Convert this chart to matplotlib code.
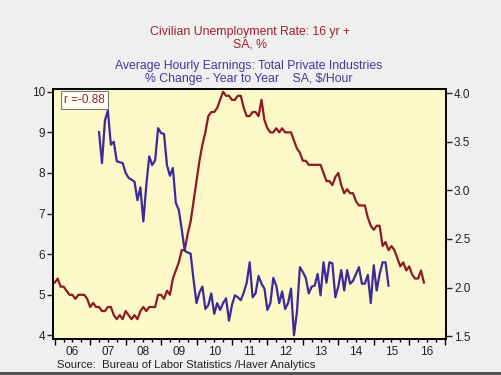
import numpy as np
import pandas as pd
import matplotlib
matplotlib.use("Agg")
import matplotlib.pyplot as plt
from matplotlib.ticker import FixedLocator, FixedFormatter
from matplotlib.patches import Rectangle

plt.rcParams['font.family'] = ['Liberation Sans', 'DejaVu Sans']

# Civilian unemployment rate, 16 yr + (SA, %), plotted 12 months ahead
unemp_start = "2006-01-01"
unemp = [
    5.3, 5.4, 5.2, 5.2, 5.1, 5.0, 5.0, 4.9, 5.0, 5.0, 5.0, 4.9,
    4.7, 4.8, 4.7, 4.7, 4.6, 4.6, 4.7, 4.7, 4.5, 4.4, 4.5, 4.4,
    4.6, 4.5, 4.4, 4.5, 4.4, 4.6, 4.7, 4.6, 4.7, 4.7, 4.7, 5.0,
    5.0, 4.9, 5.1, 5.0, 5.4, 5.6, 5.8, 6.1, 6.1, 6.5, 6.8, 7.3,
    7.8, 8.3, 8.7, 9.0, 9.4, 9.5, 9.5, 9.6, 9.8, 10.0, 9.9, 9.9,
    9.8, 9.8, 9.9, 9.9, 9.6, 9.4, 9.4, 9.5, 9.5, 9.4, 9.8, 9.3,
    9.1, 9.0, 9.0, 9.1, 9.0, 9.1, 9.0, 9.0, 9.0, 8.8, 8.6, 8.5,
    8.3, 8.3, 8.2, 8.2, 8.2, 8.2, 8.2, 8.0, 7.8, 7.8, 7.7, 7.9,
    8.0, 7.7, 7.5, 7.6, 7.5, 7.5, 7.3, 7.2, 7.2, 7.2, 6.9, 6.7,
    6.6, 6.7, 6.7, 6.2, 6.3, 6.1, 6.2, 6.1, 5.9, 5.7, 5.8, 5.6,
    5.7, 5.5, 5.4, 5.4, 5.6, 5.3,
]

# Average hourly earnings, total private, % change year to year
ahe_start = "2007-04-01"
ahe = [
    3.60, 3.28, 3.72, 3.82, 3.47, 3.50, 3.30, 3.29, 3.28,
    3.18, 3.13, 3.11, 3.09, 2.90, 3.03, 2.68, 3.05, 3.35, 3.26, 3.31, 3.64,
    3.59, 3.58, 3.26, 3.15, 3.23, 2.87, 2.80, 2.60, 2.38, 2.36, 2.35, 2.08,
    1.84, 1.95, 2.01, 1.78, 1.82, 1.94, 1.73, 1.84, 1.77, 1.84, 1.89, 1.66,
    1.82, 1.92, 1.90, 1.87, 1.95, 2.05, 2.26, 1.90, 1.94, 2.12, 2.04, 1.99,
    1.77, 1.84, 2.10, 2.02, 1.84, 1.96, 1.78, 1.84, 1.99, 1.51, 1.75, 2.21,
    2.16, 2.10, 1.94, 2.01, 2.02, 2.14, 1.92, 2.26, 2.05, 2.26, 2.25, 1.90,
    2.01, 2.18, 1.97, 2.18, 2.04, 2.07, 2.14, 2.21, 2.04, 2.04, 2.13, 1.84,
    2.23, 1.97, 2.14, 2.26, 2.26, 2.02,
]

years = list(range(2006, 2017))
year_labels = [f"{y % 100:02d}" for y in years]
left_ticks = [4, 5, 6, 7, 8, 9, 10]
right_ticks = [1.5, 2.0, 2.5, 3.0, 3.5, 4.0]


def decimal_months(start, n):
    d = pd.date_range(start, periods=n, freq="MS")
    return d.year + (d.month - 1) / 12.0


x_unemp = decimal_months(unemp_start, len(unemp))
x_ahe = decimal_months(ahe_start, len(ahe))

RED = "#8e1b22"
BLUE = "#3a2a9c"

fig = plt.figure(figsize=(5.01, 3.75), dpi=100)
fig.patch.set_facecolor("#efefef")
ax = fig.add_axes([0.1064, 0.0947, 0.7832, 0.6672])
ax.set_facecolor("#fcf8c8")
ax2 = ax.twinx()

ax.plot(x_unemp, unemp, color=RED, lw=1.6, zorder=3)
ax2.plot(x_ahe, ahe, color=BLUE, lw=1.6, zorder=3)

ax.set_xlim(2005.96, 2017.03)
ax.set_ylim(3.9, 10.06)
ax2.set_ylim(1.466, 4.04)

# left / right axes
ax.set_yticks(left_ticks)
ax.set_yticklabels([str(v) for v in left_ticks])
ax2.set_yticks(right_ticks)
ax2.set_yticklabels([f"{v:.1f}" for v in right_ticks])
ax.tick_params(axis="y", direction="out", length=4, width=1, pad=2,
               labelsize=8.5, colors="#222222")
ax2.tick_params(axis="y", direction="out", length=4, width=1, pad=2,
                labelsize=8.5, colors="#222222")

# bottom axis: year ticks, quarter minor ticks, labels mid-year
ax.xaxis.set_major_locator(FixedLocator(years + [2017]))
ax.xaxis.set_major_formatter(FixedFormatter([""] * (len(years) + 1)))
quarters = [y + q / 4 for y in years for q in (1, 2, 3)]
q_labels = [year_labels[i // 3] if i % 3 == 1 else "" for i in range(len(quarters))]
ax.xaxis.set_minor_locator(FixedLocator(quarters))
ax.xaxis.set_minor_formatter(FixedFormatter(q_labels))
ax.tick_params(axis="x", which="major", direction="out", length=4.5, width=1)
ax.tick_params(axis="x", which="minor", direction="out", length=2.5, width=1,
               pad=2.5, labelsize=8.5, labelcolor="#222222")

for a in (ax, ax2):
    for s in a.spines.values():
        s.set_linewidth(1.2)
        s.set_color("black")

# correlation box
ax.text(0.027, 0.957, "r =-0.88", transform=ax.transAxes, color="#9e1f32",
        fontsize=8.5, va="center", ha="left", zorder=5,
        bbox=dict(boxstyle="square,pad=0.25", facecolor="#fffff4",
                  edgecolor="#7a7a7a", linewidth=0.8))

# titles
fig.text(0.499, 1 - 32 / 375, "Civilian Unemployment Rate: 16 yr +",
         ha="center", va="center", fontsize=8.8, color="#9e1f32")
fig.text(0.499, 1 - 44.5 / 375, "SA, %",
         ha="center", va="center", fontsize=8.8, color="#9e1f32")
fig.text(0.497, 1 - 66.5 / 375, "Average Hourly Earnings: Total Private Industries",
         ha="center", va="center", fontsize=8.8, color="#45379a")
fig.text(0.497, 1 - 79 / 375, "% Change - Year to Year    SA, $/Hour",
         ha="center", va="center", fontsize=8.8, color="#45379a")

fig.text(57 / 501, 1 - 365 / 375, "Source:  Bureau of Labor Statistics /Haver Analytics",
         ha="left", va="center", fontsize=8.1, color="#222222")

# dark strip along the bottom edge
fig.patches.append(Rectangle((0, 0), 1, 3 / 375, transform=fig.transFigure,
                             facecolor="#555555", edgecolor="none"))

fig.savefig("out.png", dpi=100, facecolor=fig.get_facecolor())
